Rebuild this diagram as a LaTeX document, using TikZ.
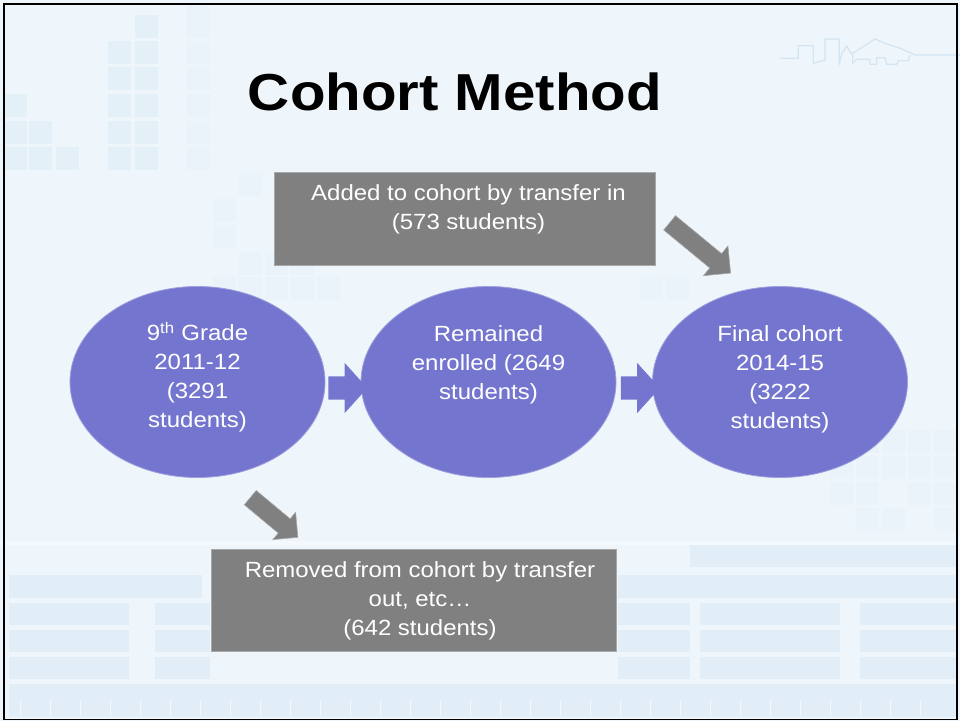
\documentclass[tikz,border=0pt]{standalone}
\usepackage{fontspec}
\setmainfont{Liberation Sans}
\usetikzlibrary{shapes.geometric,shapes.arrows}
\definecolor{bg}{HTML}{EFF6FB}
\definecolor{sq}{HTML}{E3F0F8}
\definecolor{sqpale}{HTML}{E9F3F9}
\definecolor{band}{HTML}{E2EEF7}
\definecolor{bandlight}{HTML}{F3F9FC}
\definecolor{ell}{HTML}{7475CF}
\definecolor{boxg}{HTML}{808080}
\definecolor{boxb}{HTML}{A8A8A8}
\definecolor{logo}{HTML}{D3E5F2}
\begin{document}
\begin{tikzpicture}[x=1pt,y=-1pt,
  cohort/.style={ellipse, fill=ell, draw=ell!70!white, line width=0.8pt,
    minimum width=255pt, minimum height=191pt, inner sep=0pt},
  graybox/.style={rectangle, fill=boxg, draw=boxb, line width=1pt, inner sep=0pt},
  wtext/.style={text=white, font=\fontsize{22}{29}\selectfont, align=center,
    inner sep=0pt, anchor=north, xscale=1.09},
  purplearrow/.style={single arrow, fill=ell, draw=none, inner sep=0pt,
    inner ysep=11.5pt, minimum height=39pt, single arrow head extend=13.5pt,
    single arrow tip angle=96},
  grayarrow/.style={single arrow, fill=boxg, draw=boxb, line width=0.6pt, inner sep=0pt,
    inner ysep=9pt, single arrow head extend=10pt, single arrow tip angle=90}]
% background
\fill[bg] (0,0) rectangle (960,721);
\useasboundingbox (0,0) rectangle (960,721);
% decorative squares (top-left)
\foreach \yy in {41,67,94,121,147} \fill[sq] (108,\yy) rectangle ++(23,23);
\foreach \yy in {15,41,67,94,121,147} \fill[sq] (135,\yy) rectangle ++(23,23);
\foreach \yy in {4,15,41,67,94,121,147} \fill[sqpale] (187,\yy) rectangle ++(23,23);
\foreach \yy in {94,121,147} \fill[sq] (5,\yy) rectangle ++(22,23);
\foreach \yy in {121,147} \fill[sq] (29,\yy) rectangle ++(23,23);
\fill[sq] (56,147) rectangle ++(23,23);
\foreach \xx/\yy in {213/199,213/225,239/173,239/252,265/252,213/277,239/277,265/277,291/277,317/277,
   291/252,640/277,666/277,830/430,856/430,882/430,908/430,934/430,830/456,856/456,882/456,908/456,934/456,
   830/482,856/482,908/482,934/482,856/508,882/508,934/508}
  \fill[sqpale] (\xx,\yy) rectangle ++(23,23);
% lower bands
\fill[bandlight] (0,541) rectangle (960,545);
\fill[band] (690,545) rectangle (957,567);
\fill[band] (9,575) rectangle (202,598);
\fill[band] (618,575) rectangle (957,598);
\foreach \ya in {603,630,657} {
  \fill[band] (9,\ya) rectangle (129,\ya+22);
  \fill[band] (155,\ya) rectangle (210,\ya+22);
  \fill[band] (618,\ya) rectangle (690,\ya+22);
  \fill[band] (700,\ya) rectangle (840,\ya+22);
  \fill[band] (860,\ya) rectangle (957,\ya+22);
}
\fill[band] (9,684) rectangle (957,717);
\foreach \xx in {20,50,80,110,140,170,200,230,260,290,320,350,380,410,440,470,500,530,560,590,620,650,680,710,740,770,800,830,860,890,920}
  \draw[white!60!band, line width=1pt] (\xx,700) -- (\xx,716);
% logo skyline (top right)
\draw[logo, line width=1.3pt, line join=round]
  (780,58.3) -- (798.3,58.3) -- (798.3,45.7) -- (813.3,45.7) -- (813.3,63.3)
  -- (825,60) -- (825,39) -- (839.3,39) -- (839.3,64.3) -- (841.7,53.3)
  -- (846.7,46) -- (851,53.3) -- (852.7,53.3) -- (875,39) -- (886.7,44)
  -- (900,48.3) -- (915,55) -- (960,55);
\draw[logo, line width=1.3pt, line join=round]
  (852.7,53.3) -- (852.7,63.3) -- (856.7,59.3) -- (870,59.3) -- (870,64.3)
  -- (876.7,64.3) -- (876.7,57.7) -- (885,57.7) -- (886.7,64.3) -- (896.7,64.3)
  -- (898.3,60.7) -- (908.3,60.7) -- (910,55);
% frame
\draw[black, line width=1.6pt] (4,4) rectangle (957,719.5);
% title
\node[font=\fontsize{52}{60}\bfseries, inner sep=0pt, anchor=base, xscale=1.12] (title) at (455,110) {Cohort Method};
% boxes
\node[graybox, minimum width=381pt, minimum height=93pt] (addbox) at (464.5,219) {};
\node[graybox, minimum width=405pt, minimum height=102pt] (rembox) at (414,600) {};
\node[wtext] (addtext) at (468.5,184) {Added to cohort by transfer in\\(573 students)};
\node[wtext] (remtext) at (420,561.5) {Removed from cohort by transfer\\out, etc…\\(642 students)};
% ellipses
\node[cohort] (e1) at (197.5,382) {};
\node[cohort] (e2) at (488.5,382) {};
\node[cohort] (e3) at (780,382) {};
\node[wtext] (t1) at (197.5,322) {9\textsuperscript{th} Grade\\2011-12\\(3291\\students)};
\node[wtext] (t2) at (488.5,325) {Remained\\enrolled (2649\\students)};
\node[wtext] (t3) at (780,325) {Final cohort\\2014-15\\(3222\\students)};
% block arrows
\node[purplearrow] (a12) at (342.5,388) {};
\node[purplearrow] (a23) at (635,388) {};
\node[grayarrow, minimum height=79pt, rotate=-39.5] (ain) at (696.5,245) {};
\node[grayarrow, minimum height=62pt, single arrow head extend=8.5pt, rotate=-39.8] (aout) at (270.5,514.5) {};
\end{tikzpicture}
\end{document}
